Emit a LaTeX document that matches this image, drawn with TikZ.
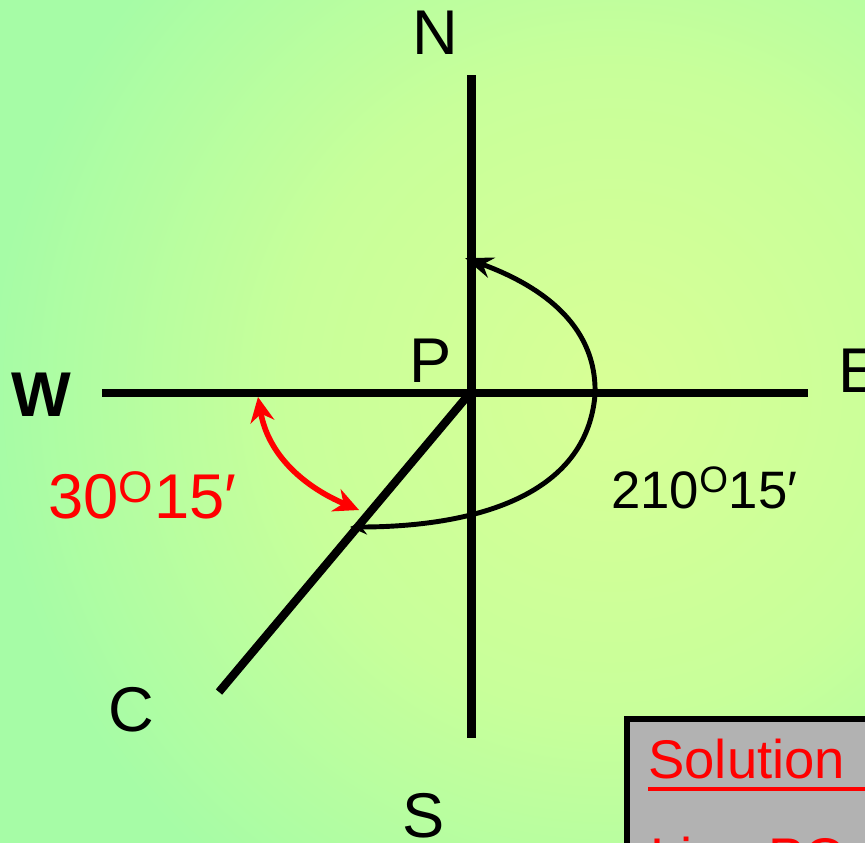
\documentclass[tikz,border=0pt]{standalone}
\usepackage{fontspec}
\setmainfont{Liberation Sans}
\usetikzlibrary{arrows.meta}
\definecolor{bgin}{HTML}{D8FF96}
\definecolor{bgmid}{HTML}{C8FF9A}
\definecolor{bgout}{HTML}{A6FCA6}
\definecolor{panel}{HTML}{B2B2B2}
\definecolor{hilite}{HTML}{FF0000}
\pgfdeclareradialshading{meadow}{\pgfpoint{0bp}{0bp}}{color(0bp)=(bgin); color(13bp)=(bgmid); color(25bp)=(bgout); color(50bp)=(bgout)}
\tikzset{
  axis/.style={line width=4.7pt},
  lbl/.style={inner sep=0pt, font=\fontsize{36}{40}\selectfont},
  bearing/.style={line width=2.8pt, {Stealth[length=3.4mm,width=3mm]}-{Stealth[length=5.6mm,width=4.2mm]}},
  angle/.style={hilite, line width=3.2pt, {Stealth[length=5mm,width=4.8mm]}-{Stealth[length=5mm,width=4.8mm]}}
}

\begin{document}
\begin{tikzpicture}[x=0.02cm,y=-0.02cm]
\useasboundingbox (0,0) rectangle (865,842);
\clip (0,0) rectangle (865,842);
\fill[bgout] (0,0) rectangle (865,842);
\shade[shading=meadow] (-10,-230) rectangle (1230,1010);

% axes
\coordinate (P) at (470,393);
\coordinate (Ntop) at (471.5,75);
\coordinate (Sbot) at (471.5,738);
\coordinate (Wend) at (102,393);
\coordinate (Eend) at (808,393);
\coordinate (Cend) at (219,692);
\draw[axis, line width=5.1pt] (Ntop) -- (Sbot);
\draw[axis] (Wend) -- (Eend);
\draw[axis] (P) -- (Cend);

\node[lbl, anchor=base] (nlab) at (435,54) {N};
\node[lbl, anchor=base] (slab) at (424,837) {S};
\node[lbl, anchor=base, font=\bfseries\fontsize{36}{40}\selectfont] (wlab) at (41,416) {W};
\node[lbl, anchor=base west] (elab) at (838,392) {E};
\node[lbl, anchor=base] (plab) at (431,382) {P};
\node[lbl, anchor=base] (clab) at (131,731) {C};

% whole circle bearing
\coordinate (arcS) at (350,527);
\coordinate (arcE) at (595,395);
\coordinate (arcN) at (465,258);
\draw[bearing] (arcS) to[out=0,in=-95] (arcE) to[out=88,in=-20] (arcN);
\node[lbl, anchor=base west, font=\fontsize{30}{34}\selectfont] (wcb) at (611,508) {210\textsuperscript{O}15′};

% reduced bearing
\coordinate (redA) at (258,397);
\coordinate (redB) at (359,510);
\draw[angle] (redA) to[out=-80,in=157] (redB);
\node[lbl, anchor=base west, text=hilite] (rb) at (48,518) {30\textsuperscript{O}15′};

% solution panel
\draw[line width=3.4pt, fill=panel] (627,719) rectangle (900,900);
\node[anchor=base west, inner sep=0pt, text=hilite, font=\fontsize{31}{36}\selectfont] (sol) at (648,778) {Solution};
\draw[hilite, line width=2.3pt] (sol.base west) ++(0,11) -- ++(300,0);
\node[anchor=base west, inner sep=0pt, text=hilite, font=\fontsize{31}{36}\selectfont] (solline) at (650,876) {Line PQ};

\end{tikzpicture}
\end{document}
